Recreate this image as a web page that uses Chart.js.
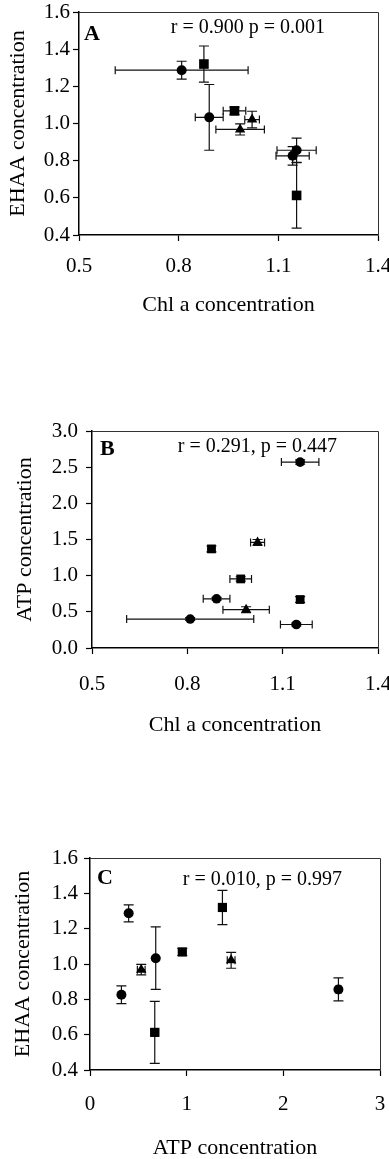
<!DOCTYPE html>
<html><head><meta charset="utf-8">
<script src="https://cdn.jsdelivr.net/npm/chart.js@4.4.0/dist/chart.umd.min.js"></script>
<style>
html,body{margin:0;padding:0;background:#fff;width:389px;height:1159px;overflow:hidden}
canvas{position:absolute;left:0;display:block}
</style></head><body>
<canvas id="cA" width="389" height="330" style="top:0px"></canvas>
<canvas id="cB" width="389" height="360" style="top:380px"></canvas>
<canvas id="cC" width="389" height="369" style="top:790px"></canvas>
<script>
// ---------------- DATA ----------------
// circles
const circleChl      = [0.809, 0.892, 1.143, 1.155];
const circleChlErr   = [0.200, 0.042, 0.050, 0.059];
const circleEhaa     = [1.287, 1.033, 0.826, 0.856];
const circleEhaaErr  = [0.048, 0.177, 0.050, 0.065];
const circleAtp      = [0.40, 0.68, 0.325, 2.57];
const circleAtpErr   = [0.02, 0.02, 0.02, 0.03];
// squares
const squareChl      = [0.876, 0.968, 1.155];
const squareChlErr   = [0.010, 0.034, 0.008];
const squareEhaa     = [1.320, 1.068, 0.613];
const squareEhaaErr  = [0.097, 0.020, 0.176];
const squareAtp      = [1.37, 0.955, 0.67];
const squareAtpErr   = [0.04, 0.03, 0.04];
// triangles
const triangleChl     = [0.985, 1.021];
const triangleChlErr  = [0.073, 0.022];
const triangleEhaa    = [0.968, 1.021];
const triangleEhaaErr = [0.030, 0.045];
const triangleAtp     = [0.53, 1.46];
const triangleAtpErr  = [0.04, 0.04];

// ticks
const chlTicks       = [0.5, 0.8, 1.1, 1.4];
const chlTickLabels  = ['0.5', '0.8', '1.1', '1.4'];
const ehaaTicks      = [0.4, 0.6, 0.8, 1.0, 1.2, 1.4, 1.6];
const ehaaTickLabels = ['0.4', '0.6', '0.8', '1.0', '1.2', '1.4', '1.6'];
const atpTicksB      = [0, 0.5, 1, 1.5, 2, 2.5, 3];
const atpTickLabelsB = ['0.0', '0.5', '1.0', '1.5', '2.0', '2.5', '3.0'];
const atpTicksC      = [0, 1, 2, 3];
const atpTickLabelsC = ['0', '1', '2', '3'];

// texts
const panelLetters = ['A', 'B', 'C'];
const statLabels   = ['r = 0.900 p = 0.001', 'r = 0.291, p = 0.447', 'r = 0.010, p = 0.997'];
const chlTitle  = 'Chl a concentration';
const ehaaTitle = 'EHAA concentration';
const atpTitle  = 'ATP concentration';

// ---------------- HELPERS ----------------
const FONT = "'Liberation Serif', 'Times New Roman', serif";
function pts(xs, ys) { return xs.map((v, i) => ({ x: v, y: ys[i] })); }
function ds(style, radius, xs, xe, ys, ye) {
  return {
    data: pts(xs, ys), xErr: xe, yErr: ye,
    pointStyle: style, pointRadius: radius, pointHoverRadius: radius,
    backgroundColor: '#000', borderColor: '#000', borderWidth: 0, showLine: false
  };
}

const errorBars = {
  id: 'errorBars',
  beforeDatasetsDraw(chart) {
    const { ctx, scales: { x, y } } = chart;
    ctx.save();
    ctx.strokeStyle = '#111';
    ctx.lineWidth = 1.2;
    chart.data.datasets.forEach(d => {
      d.data.forEach((p, i) => {
        const px = x.getPixelForValue(p.x), py = y.getPixelForValue(p.y);
        const ex = d.xErr ? d.xErr[i] : 0, ey = d.yErr ? d.yErr[i] : 0;
        ctx.beginPath();
        if (ex) {
          const x0 = x.getPixelForValue(p.x - ex), x1 = x.getPixelForValue(p.x + ex);
          ctx.moveTo(x0, py); ctx.lineTo(x1, py);
          ctx.moveTo(x0, py - 4); ctx.lineTo(x0, py + 4);
          ctx.moveTo(x1, py - 4); ctx.lineTo(x1, py + 4);
        }
        if (ey) {
          const y0 = y.getPixelForValue(p.y - ey), y1 = y.getPixelForValue(p.y + ey);
          ctx.moveTo(px, y0); ctx.lineTo(px, y1);
          ctx.moveTo(px - 5, y0); ctx.lineTo(px + 5, y0);
          ctx.moveTo(px - 5, y1); ctx.lineTo(px + 5, y1);
        }
        ctx.stroke();
      });
    });
    ctx.restore();
  }
};

const frame = {
  id: 'frame',
  beforeDatasetsDraw(chart) {
    const { ctx, chartArea: a } = chart;
    ctx.save();
    ctx.strokeStyle = '#333';
    ctx.lineWidth = 1;
    ctx.beginPath();
    ctx.moveTo(a.left, a.top + 0.5); ctx.lineTo(a.right + 0.5, a.top + 0.5); ctx.lineTo(a.right + 0.5, a.bottom);
    ctx.stroke();
    ctx.restore();
  }
};

const panelText = {
  id: 'panelText',
  afterDraw(chart, args, o) {
    const { ctx, chartArea: a } = chart;
    ctx.save();
    ctx.fillStyle = '#000';
    ctx.textBaseline = 'middle';
    ctx.textAlign = 'left';
    ctx.font = "bold 22px " + FONT;
    ctx.fillText(o.letter, a.left + o.lx, a.top + o.ly);
    ctx.font = "20px " + FONT;
    ctx.textAlign = 'right';
    ctx.fillText(o.stat, a.right - o.sx, a.top + o.sy);
    ctx.restore();
  }
};

function axis(o) {
  return {
    type: 'linear', min: o.min, max: o.max,
    afterBuildTicks: s => { s.ticks = o.ticks.map(v => ({ value: v })); },
    afterFit: s => {
      if (o.width !== undefined) s.width = o.width;
      if (o.height !== undefined) s.height = o.height;
      s.paddingLeft = 0; s.paddingRight = 0; s.paddingTop = 0; s.paddingBottom = 0;
    },
    ticks: {
      callback: v => o.labels[o.ticks.indexOf(v)],
      font: { family: FONT, size: 21 }, color: '#000', padding: o.tickPad, maxRotation: 0, autoSkip: false
    },
    grid: { display: true, drawOnChartArea: false, drawTicks: true, tickLength: 6, tickColor: '#000', tickWidth: 1.2 },
    border: { display: true, color: '#000', width: 1.5 },
    title: { display: true, text: o.title, color: '#000', font: { family: FONT, size: 22, lineHeight: 1 }, padding: o.titlePad }
  };
}

function makePanel(id, p) {
  return new Chart(document.getElementById(id), {
    type: 'scatter',
    data: { datasets: p.datasets },
    options: {
      responsive: false, animation: false, events: [],
      layout: { padding: { top: p.padTop, right: p.padRight, left: 0, bottom: 0 } },
      plugins: { legend: { display: false }, tooltip: { enabled: false },
        panelText: { letter: p.letter, stat: p.stat, lx: p.lx, ly: p.ly, sx: p.sx, sy: p.sy } },
      scales: { x: axis(p.x), y: axis(p.y) }
    },
    plugins: [frame, errorBars, panelText]
  });
}

// ---------------- PANELS ----------------
makePanel('cA', {
  padTop: 12, padRight: 11,
  letter: panelLetters[0], stat: statLabels[0], lx: 5, ly: 22, sx: 53, sy: 16,
  datasets: [
    ds('circle', 5, circleChl, circleChlErr, circleEhaa, circleEhaaErr),
    ds('rect', 6.8, squareChl, squareChlErr, squareEhaa, squareEhaaErr),
    ds('triangle', 6, triangleChl, triangleChlErr, triangleEhaa, triangleEhaaErr)
  ],
  x: { min: 0.5, max: 1.4, ticks: chlTicks, labels: chlTickLabels, title: chlTitle, height: 95, tickPad: 13, titlePad: { top: 0, bottom: 14 } },
  y: { min: 0.4, max: 1.6, ticks: ehaaTicks, labels: ehaaTickLabels, title: ehaaTitle, width: 79, tickPad: 3, titlePad: { top: 7, bottom: 0 } }
});

makePanel('cB', {
  padTop: 51, padRight: 11,
  letter: panelLetters[1], stat: statLabels[1], lx: 8, ly: 18, sx: 41, sy: 16,
  datasets: [
    ds('circle', 4.8, circleChl, circleChlErr, circleAtp, circleAtpErr),
    ds('rect', 6.2, squareChl, squareChlErr, squareAtp, squareAtpErr),
    ds('triangle', 5.8, triangleChl, triangleChlErr, triangleAtp, triangleAtpErr)
  ],
  x: { min: 0.5, max: 1.4, ticks: chlTicks, labels: chlTickLabels, title: chlTitle, height: 92, tickPad: 18, titlePad: { top: 0, bottom: 4 } },
  y: { min: 0, max: 3, ticks: atpTicksB, labels: atpTickLabelsB, title: atpTitle, width: 92, tickPad: 8, titlePad: { top: 14, bottom: 0 } }
});

makePanel('cC', {
  padTop: 68, padRight: 9,
  letter: panelLetters[2], stat: statLabels[2], lx: 7, ly: 20, sx: 38, sy: 22,
  datasets: [
    ds('circle', 5, circleAtp, circleAtpErr, circleEhaa, circleEhaaErr),
    ds('rect', 6.5, squareAtp, squareAtpErr, squareEhaa, squareEhaaErr),
    ds('triangle', 6, triangleAtp, triangleAtpErr, triangleEhaa, triangleEhaaErr)
  ],
  x: { min: 0, max: 3, ticks: atpTicksC, labels: atpTickLabelsC, title: atpTitle, height: 89, tickPad: 16, titlePad: { top: 0, bottom: 0 } },
  y: { min: 0.4, max: 1.6, ticks: ehaaTicks, labels: ehaaTickLabels, title: ehaaTitle, width: 90, tickPad: 6, titlePad: { top: 12, bottom: 0 } }
});
</script>
</body></html>
